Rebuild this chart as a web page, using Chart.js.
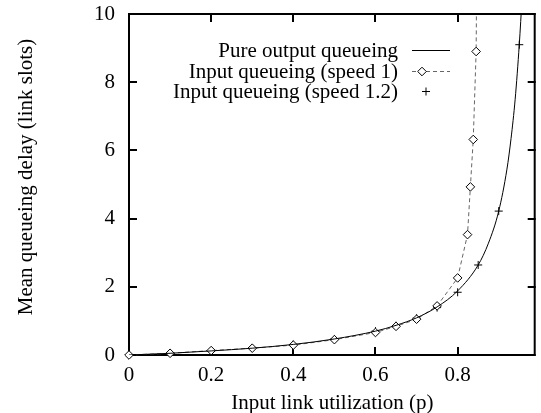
<!DOCTYPE html>
<html>
<head>
<meta charset="utf-8">
<script src="https://cdn.jsdelivr.net/npm/chart.js@4.4.0/dist/chart.umd.min.js"></script>
<style>
html, body { margin: 0; padding: 0; background: #fff; }
#wrap { width: 541px; height: 413px; position: relative; }
</style>
</head>
<body>
<div id="wrap"><canvas id="delay-chart"></canvas></div>
<script>
// tick labels
const xTicks = [0, 0.2, 0.4, 0.6, 0.8];
const yTicks = [0, 2, 4, 6, 8, 10];

const seriesNames = ['Pure output queueing', 'Input queueing (speed 1)', 'Input queueing (speed 1.2)'];
const xTitle = 'Input link utilization (p)';
const yTitle = 'Mean queueing delay (link slots)';

// pure output queueing (solid curve)
const outputP = [0, 0.1, 0.2, 0.3, 0.4, 0.5, 0.6, 0.65, 0.7, 0.75, 0.8, 0.85, 0.875, 0.9, 0.92, 0.93, 0.94, 0.95, 0.957];
const outputDelay = [0, 0.05, 0.12, 0.2, 0.31, 0.47, 0.7, 0.87, 1.09, 1.41, 1.88, 2.64, 3.28, 4.22, 5.45, 6.35, 7.5, 9.1, 10.5];

// input queueing, speed 1 (diamonds, dashed)
const speed1P = [0, 0.1, 0.2, 0.3, 0.4, 0.5, 0.6, 0.65, 0.7, 0.75, 0.8, 0.824, 0.831, 0.838, 0.845, 0.847];
const speed1Delay = [0, 0.05, 0.13, 0.2, 0.29, 0.45, 0.66, 0.84, 1.05, 1.44, 2.26, 3.53, 4.93, 6.32, 8.9, 12];

// input queueing, speed 1.2 (plus marks)
const speed12P = [0, 0.1, 0.2, 0.3, 0.4, 0.5, 0.6, 0.65, 0.7, 0.75, 0.8, 0.85, 0.9, 0.95];
const speed12Delay = [0, 0.05, 0.12, 0.2, 0.31, 0.47, 0.7, 0.86, 1.08, 1.39, 1.84, 2.64, 4.22, 9.1];

const toPoints = (xs, ys) => xs.map((v, i) => ({x: v, y: ys[i]}));

const FONT = '"Liberation Serif", "DejaVu Serif", serif';
const FSIZE = 21;

// gnuplot style frame with inward ticks on all four sides
const frameTicks = {
    id: 'frameTicks',
    beforeDatasetsDraw(chart) {
        const {ctx, chartArea: a, scales: {x, y}} = chart;
        ctx.save();
        ctx.strokeStyle = '#000';
        ctx.lineWidth = 2;
        ctx.strokeRect(a.left, a.top, a.right - a.left - 1, a.bottom - a.top);
        ctx.beginPath();
        xTicks.forEach(v => {
            const px = Math.round(x.getPixelForValue(v));
            ctx.moveTo(px, a.bottom); ctx.lineTo(px, a.bottom - 8);
            ctx.moveTo(px, a.top); ctx.lineTo(px, a.top + 8);
        });
        yTicks.forEach(v => {
            const py = Math.round(y.getPixelForValue(v));
            ctx.moveTo(a.left, py); ctx.lineTo(a.left + 8, py);
            ctx.moveTo(a.right, py); ctx.lineTo(a.right - 8, py);
        });
        ctx.stroke();

        // y axis title, rotated
        ctx.font = FSIZE + 'px ' + FONT;
        ctx.fillStyle = '#000';
        ctx.textAlign = 'center';
        ctx.textBaseline = 'middle';
        ctx.translate(26, 177);
        ctx.rotate(-Math.PI / 2);
        ctx.fillText(yTitle, 0, 0);
        ctx.restore();
    }
};

// legend inside the plot, text right aligned, sample to the right
const keyBox = {
    id: 'keyBox',
    afterDraw(chart) {
        const ctx = chart.ctx;
        const textRight = 398, lineStart = 412, lineEnd = 450;
        const rows = [50, 71, 91];
        const markX = [431, 422, 426];
        ctx.save();
        ctx.font = FSIZE + 'px ' + FONT;
        ctx.textAlign = 'right';
        ctx.textBaseline = 'middle';
        chart.data.datasets.forEach((ds, i) => {
            const yy = rows[i];
            ctx.fillStyle = '#000';
            ctx.fillText(ds.label, textRight, yy + 1);
            if (ds.showLine) {
                ctx.beginPath();
                ctx.strokeStyle = ds.borderColor;
                ctx.lineWidth = ds.borderWidth;
                ctx.setLineDash(ds.borderDash || []);
                ctx.moveTo(lineStart, yy + 0.5);
                ctx.lineTo(lineEnd, yy + 0.5);
                ctx.stroke();
                ctx.setLineDash([]);
            }
            if (ds.pointRadius > 0) {
                ctx.strokeStyle = ds.pointBorderColor;
                ctx.fillStyle = ds.pointBackgroundColor;
                ctx.lineWidth = ds.pointBorderWidth;
                Chart.helpers.drawPoint(ctx, {
                    pointStyle: ds.pointStyle,
                    radius: ds.pointRadius,
                    rotation: 0,
                    borderWidth: ds.pointBorderWidth
                }, markX[i], yy + 0.5);
            }
        });
        ctx.restore();
    }
};

const data = {
    datasets: [{
        label: seriesNames[0],
        data: toPoints(outputP, outputDelay),
        showLine: true,
        borderColor: '#000',
        borderWidth: 1,
        pointRadius: 0,
        cubicInterpolationMode: 'monotone'
    }, {
        label: seriesNames[1],
        data: toPoints(speed1P, speed1Delay),
        showLine: true,
        borderColor: '#666',
        borderWidth: 1,
        borderDash: [4, 3],
        pointStyle: 'rectRot',
        pointRadius: 4.3,
        pointBorderColor: '#000',
        pointBackgroundColor: '#fff',
        pointBorderWidth: 1,
        clip: { left: 10, bottom: 10, top: 0, right: 0 }
    }, {
        label: seriesNames[2],
        data: toPoints(speed12P, speed12Delay),
        showLine: false,
        pointStyle: 'cross',
        pointRadius: 4,
        pointBorderColor: '#000',
        pointBackgroundColor: '#000',
        pointBorderWidth: 1
    }]
};

const options = {
    animation: false,
    responsive: true,
    maintainAspectRatio: false,
    layout: { padding: { top: 14, right: 0, left: 0, bottom: 0 } },
    plugins: {
        legend: { display: false },
        tooltip: { enabled: false }
    },
    scales: {
        x: {
            type: 'linear',
            min: 0,
            max: 0.99,
            afterBuildTicks: s => { s.ticks = xTicks.map(v => ({value: v})); },
            afterFit: s => { s.height = 58; s.paddingLeft = 0; s.paddingRight = 0; },
            grid: { display: false, drawTicks: false },
            border: { display: false },
            ticks: { color: '#000', padding: 8, font: { family: FONT, size: FSIZE } },
            title: {
                display: true,
                text: xTitle,
                color: '#000',
                padding: { top: 0, bottom: -3 },
                font: { family: FONT, size: FSIZE }
            }
        },
        y: {
            type: 'linear',
            min: 0,
            max: 10,
            afterBuildTicks: s => { s.ticks = yTicks.map(v => ({value: v})); },
            afterFit: s => { s.width = 129; s.paddingTop = 0; s.paddingBottom = 0; },
            grid: { display: false, drawTicks: false },
            border: { display: false },
            ticks: { color: '#000', padding: 14, font: { family: FONT, size: FSIZE } },
            title: { display: false }
        }
    }
};

let delayChart = new Chart(document.getElementById('delay-chart').getContext('2d'), {
    type: 'scatter',
    data: data,
    options: options,
    plugins: [frameTicks, keyBox]
});
</script>
</body>
</html>
